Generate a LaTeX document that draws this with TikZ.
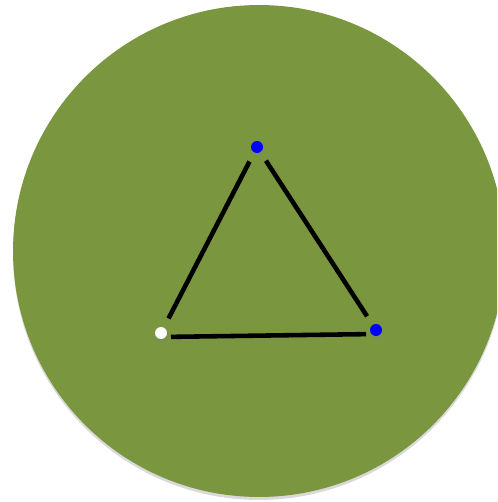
\documentclass[tikz,border=0pt]{standalone}
\usetikzlibrary{positioning,shadows}
\definecolor{disc}{RGB}{122,150,62}
\definecolor{vblue}{RGB}{0,0,255}

\begin{document}
\begin{tikzpicture}[
  x=0.02cm, y=-0.02cm,
  dot/.style={circle, draw=none, inner sep=0pt, minimum size=0.24cm,
              drop shadow={shadow xshift=0.02cm, shadow yshift=-0.06cm, opacity=0.35}},
  edge/.style={line width=2.6pt, color=black, shorten >=0.2cm, shorten <=0.2cm},
]
\useasboundingbox (0,0) rectangle (497,502);

% ---------- background disc ----------
\clip (0,0) rectangle (497,502);
\fill[disc, drop shadow={shadow xshift=0cm, shadow yshift=-0.06cm, opacity=0.3}]
  (259,251) circle (4.92cm);

% ---------- triangle corners ----------
\node[dot, fill=vblue] (top) at (257,147) {};
\node[dot, fill=white] (left) at (161,333) {};
\node[dot, fill=vblue] (right) at (376,330) {};

% ---------- sides ----------
\draw[edge] (top) -- (left);
\draw[edge] (top) -- (right);
\draw[edge] ([yshift=-0.08cm]left.center) -- ([yshift=-0.08cm]right.center);

\end{tikzpicture}
\end{document}
